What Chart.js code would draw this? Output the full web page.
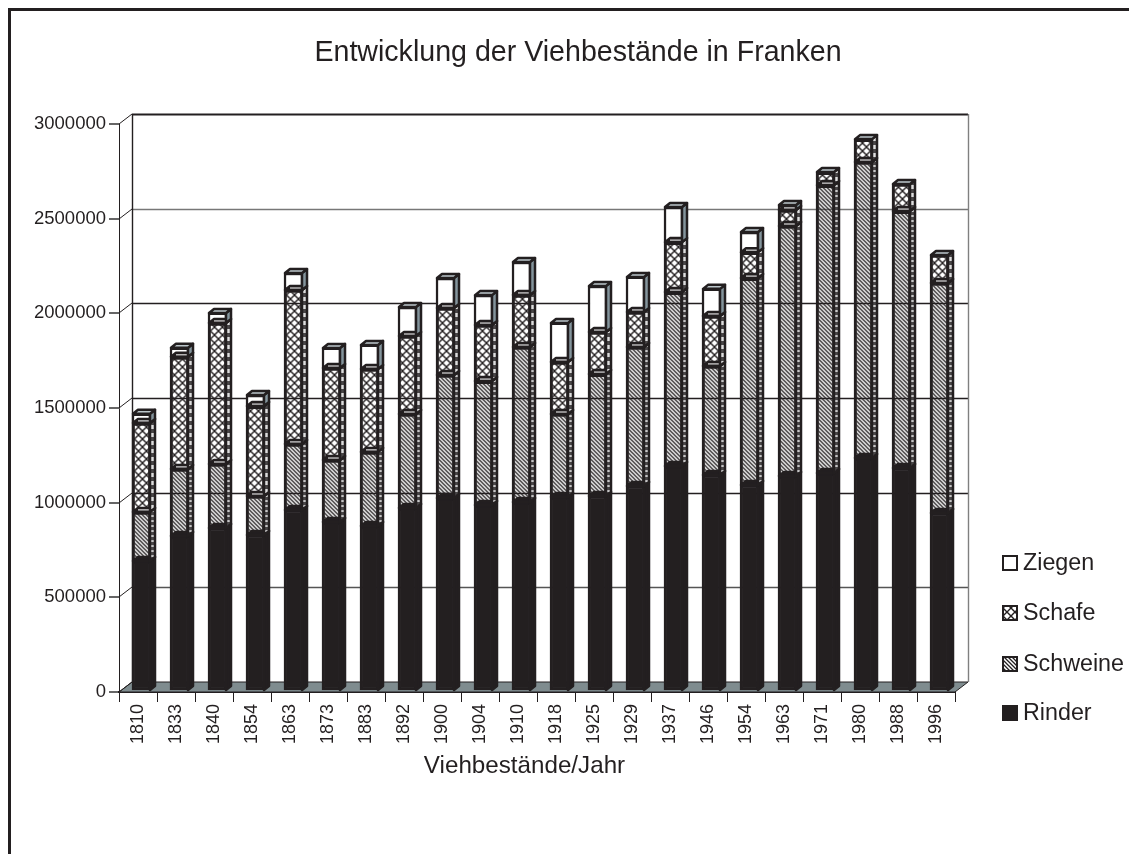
<!DOCTYPE html>
<html lang="de">
<head>
  <meta charset="UTF-8" />
  <title>Entwicklung der Viehbestände in Franken</title>
  <script src="https://cdn.jsdelivr.net/npm/chart.js"></script>
  <style>
    html, body { margin: 0; padding: 0; background: #fff; overflow: hidden; }
    body { width: 1129px; height: 854px; position: relative; }
    .frame {
      position: absolute; left: 8px; top: 8px; width: 1200px; height: 900px;
      border-left: 3px solid #231f20; border-top: 3px solid #231f20;
    }
    .chart-container { position: absolute; left: 27px; top: 0; width: 1102px; height: 854px; }
  </style>
</head>
<body>
  <div class="frame"></div>
  <div class="chart-container"><canvas id="viehChart"></canvas></div>

  <script>
    const jahre = ['1810','1833','1840','1854','1863','1873','1883','1892','1900','1904','1910','1918','1925','1929','1937','1946','1954','1963','1971','1980','1988','1996'];
    const rinder = [687000,819000,861000,824000,956000,893000,872000,967000,1019000,982000,998000,1025000,1030000,1083000,1188000,1141000,1088000,1136000,1151000,1231000,1178000,940000];
    const schweine = [259000,354000,338000,206000,349000,327000,391000,496000,650000,655000,819000,438000,644000,734000,919000,576000,1093000,1320000,1521000,1563000,1357000,1215000];
    const schafe = [470000,592000,745000,475000,813000,486000,438000,412000,354000,296000,275000,275000,222000,185000,264000,264000,137000,85000,69000,121000,143000,148000];
    const ziegen = [48000,48000,53000,58000,90000,106000,127000,153000,158000,158000,174000,206000,243000,185000,185000,143000,106000,26000,0,0,0,0];

    const DARK = '#231f20';
    const FONT = '"Liberation Sans", Arial, sans-serif';
    const DEPTH_X = 13, DEPTH_Y = 10;   // wall offset
    const BAR_X = 5, BAR_Y = 4;         // bar side/top offset
    const gridShades = { 2500000: '#777777', 500000: '#555555' };

    function tile(w, h, draw) {
      const c = document.createElement('canvas');
      c.width = w; c.height = h;
      draw(c.getContext('2d'));
      return document.createElement('canvas').getContext('2d').createPattern(c, 'repeat');
    }

    const stripes = tile(4, 4, g => {
      g.strokeStyle = DARK; g.lineWidth = 1.3;
      g.beginPath();
      g.moveTo(-1, -1); g.lineTo(5, 5);
      g.moveTo(3, -1); g.lineTo(5, 1);
      g.moveTo(-1, 3); g.lineTo(1, 5);
      g.stroke();
    });
    const hatch = tile(8, 8, g => {
      g.strokeStyle = DARK; g.lineWidth = 1.4;
      g.beginPath();
      g.moveTo(0, 0); g.lineTo(8, 8);
      g.moveTo(8, 0); g.lineTo(0, 8);
      g.stroke();
    });
    const stripesSide = tile(6, 5, g => {
      g.fillStyle = '#4a4748'; g.fillRect(0, 0, 6, 5);
      g.fillStyle = '#c8c8c8'; g.fillRect(0, 1, 6, 2);
    });
    const hatchSide = tile(6, 8, g => {
      g.fillStyle = '#4a4748'; g.fillRect(0, 0, 6, 8);
      g.fillStyle = '#dddddd'; g.fillRect(0, 2, 6, 4);
    });

    const sideFills = [DARK, stripesSide, hatchSide, '#84959c'];

    function poly(ctx, pts) {
      ctx.beginPath();
      pts.forEach((p, i) => i ? ctx.lineTo(p[0], p[1]) : ctx.moveTo(p[0], p[1]));
      ctx.closePath();
    }

    const wallsPlugin = {
      id: 'walls',
      afterLayout(chart) {
        // title sits right of the plot's centre in the original
        chart.titleBlock.left += 87;
        chart.titleBlock.right += 87;
      },
      beforeDatasetsDraw(chart) {
        const ctx = chart.ctx, y = chart.scales.y, a = chart.chartArea;
        ctx.save();
        // floor
        poly(ctx, [[a.left, a.bottom], [a.left + DEPTH_X, a.bottom - DEPTH_Y], [a.right + DEPTH_X, a.bottom - DEPTH_Y], [a.right, a.bottom]]);
        ctx.fillStyle = '#7f8c8f';
        ctx.fill();
        ctx.lineWidth = 1;
        ctx.strokeStyle = DARK;
        ctx.stroke();
        // back wall grid and the little connectors on the side wall
        y.ticks.forEach(t => {
          const py = Math.round(y.getPixelForValue(t.value));
          ctx.strokeStyle = DARK;
          ctx.lineWidth = 1;
          ctx.beginPath();
          ctx.moveTo(a.left, py);
          ctx.lineTo(a.left + DEPTH_X, py - DEPTH_Y);
          ctx.stroke();
          if (t.value > 0) {
            ctx.strokeStyle = gridShades[t.value] || DARK;
            ctx.lineWidth = t.value === 3000000 ? 2 : 1.4;
            ctx.beginPath();
            ctx.moveTo(a.left + DEPTH_X, py - DEPTH_Y + 0.5);
            ctx.lineTo(a.right + DEPTH_X, py - DEPTH_Y + 0.5);
            ctx.stroke();
          }
        });
        ctx.lineWidth = 1.4;
        ctx.strokeStyle = DARK;
        ctx.beginPath();
        ctx.moveTo(a.left + DEPTH_X + 0.5, a.top - DEPTH_Y);
        ctx.lineTo(a.left + DEPTH_X + 0.5, a.bottom - DEPTH_Y);
        ctx.stroke();
        ctx.strokeStyle = '#808080';
        ctx.beginPath();
        ctx.moveTo(a.right + DEPTH_X + 0.5, a.top - DEPTH_Y);
        ctx.lineTo(a.right + DEPTH_X + 0.5, a.bottom - DEPTH_Y);
        ctx.stroke();
        ctx.restore();
        // bars sit in the middle of the floor depth
        ctx.save();
        ctx.translate(3.5, -1);
      },
      afterDatasetsDraw(chart) {
        const ctx = chart.ctx;
        const metas = chart.data.datasets.map((d, i) => chart.getDatasetMeta(i));
        ctx.lineWidth = 2.5;
        ctx.lineJoin = 'round';
        ctx.strokeStyle = DARK;
        jahre.forEach((j, idx) => {
          let topDs = 0;
          chart.data.datasets.forEach((d, ds) => { if (d.data[idx] > 0) topDs = ds; });
          metas.forEach((meta, ds) => {
            if (!(chart.data.datasets[ds].data[idx] > 0)) return;
            const el = meta.data[idx];
            const l = el.x - el.width / 2 + 1, r = el.x + el.width / 2 - 1;
            // side face
            poly(ctx, [[r, el.y], [r + BAR_X, el.y - BAR_Y], [r + BAR_X, el.base - BAR_Y], [r, el.base]]);
            ctx.fillStyle = sideFills[ds];
            ctx.fill();
            ctx.stroke();
            // top face
            poly(ctx, [[l, el.y], [l + BAR_X, el.y - BAR_Y], [r + BAR_X, el.y - BAR_Y], [r, el.y]]);
            ctx.fillStyle = ds === topDs ? '#bcc7cb' : DARK;
            ctx.fill();
            ctx.stroke();
            if (ds > 0 && ds < topDs) {
              ctx.save();
              ctx.strokeStyle = '#fff';
              ctx.lineWidth = 1;
              ctx.beginPath();
              ctx.moveTo(l + 5, el.y - 2);
              ctx.lineTo(r - 1, el.y - 2);
              ctx.stroke();
              ctx.restore();
            }
          });
        });
        ctx.restore();
      },
      afterDraw(chart) {
        const ctx = chart.ctx;
        ctx.save();
        ctx.fillStyle = DARK;
        // axis title is off centre in the original
        ctx.font = '24.2px ' + FONT;
        ctx.textAlign = 'center';
        ctx.textBaseline = 'middle';
        ctx.fillText('Viehbestände/Jahr', 524.5 - 27, 766);
        // legend, bottom series last
        const rows = [713, 664, 613, 563];
        ctx.font = '23.3px ' + FONT;
        ctx.textAlign = 'left';
        chart.data.datasets.forEach((d, i) => {
          const py = rows[i];
          ctx.fillStyle = '#fff';
          ctx.fillRect(1003 - 27, py - 7, 14, 14);
          ctx.fillStyle = d.backgroundColor;
          ctx.fillRect(1003 - 27, py - 7, 14, 14);
          ctx.strokeStyle = DARK;
          ctx.lineWidth = 2;
          ctx.strokeRect(1003 - 27, py - 7, 14, 14);
          ctx.fillStyle = DARK;
          ctx.fillText(d.label, 1023 - 27, py + 1);
        });
        ctx.restore();
      }
    };

    const common = { borderColor: DARK, borderWidth: 2.5, borderSkipped: false, barThickness: 19, clip: false };

    new Chart(document.getElementById('viehChart').getContext('2d'), {
      type: 'bar',
      plugins: [wallsPlugin],
      data: {
        labels: jahre,
        datasets: [
          { label: 'Rinder', data: rinder, backgroundColor: DARK, ...common },
          { label: 'Schweine', data: schweine, backgroundColor: stripes, ...common },
          { label: 'Schafe', data: schafe, backgroundColor: hatch, ...common },
          { label: 'Ziegen', data: ziegen, backgroundColor: '#ffffff', ...common }
        ]
      },
      options: {
        responsive: true,
        maintainAspectRatio: false,
        animation: false,
        layout: { padding: { right: 174 } },
        plugins: {
          legend: { display: false },
          tooltip: { enabled: false },
          title: {
            display: true,
            text: 'Entwicklung der Viehbestände in Franken',
            color: DARK,
            font: { family: FONT, size: 28.6, weight: 'normal' },
            padding: { top: 36, bottom: 53.7 }
          }
        },
        scales: {
          x: {
            stacked: true,
            afterFit(s) { s.height = 162; },
            border: { color: DARK, width: 2 },
            grid: { offset: true, drawOnChartArea: false, color: DARK, tickLength: 10, lineWidth: 1 },
            ticks: {
              color: DARK, autoSkip: false, minRotation: 90, maxRotation: 90, padding: 2,
              font: { family: FONT, size: 18 }
            }
          },
          y: {
            stacked: true,
            min: 0,
            max: 3000000,
            afterFit(s) { s.width = 92; },
            border: { color: DARK, width: 1 },
            grid: { drawOnChartArea: false, color: '#666', tickLength: 10, lineWidth: 2 },
            ticks: {
              stepSize: 500000, color: DARK, padding: 3,
              font: { family: FONT, size: 18.5 },
              callback: v => String(v)
            }
          }
        }
      }
    });
  </script>
</body>
</html>
